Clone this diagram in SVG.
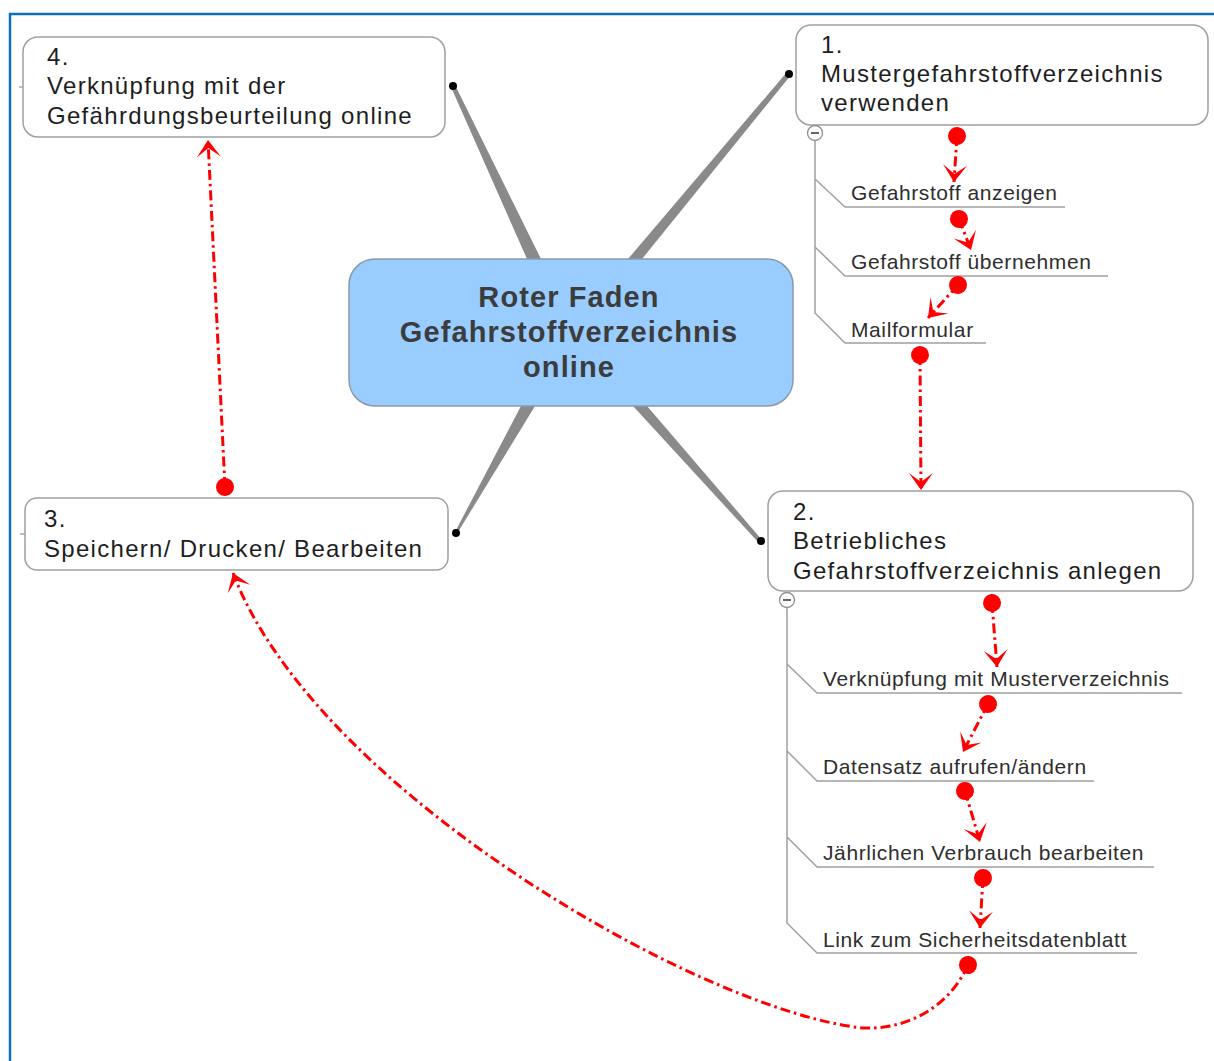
<svg xmlns="http://www.w3.org/2000/svg" width="1214" height="1061" viewBox="0 0 1214 1061">
<defs>
<style>
.box{fill:#fff;stroke:#a0a0a0;stroke-width:1.5}
.t{font-family:"Liberation Sans",Arial,sans-serif;font-size:24px;letter-spacing:1.3px;fill:#1e1e1e}
.s{font-family:"Liberation Sans",Arial,sans-serif;font-size:21px;letter-spacing:0.6px;fill:#2e2e2e}
.c{font-family:"Liberation Sans",Arial,sans-serif;font-size:29px;font-weight:bold;letter-spacing:1.1px;fill:#3c3c3c;text-anchor:middle}
.br{fill:none;stroke:#a0a0a0;stroke-width:1.5}
.arm{fill:#8a8a8a}
.dot{fill:#000}
.rel{fill:none;stroke:#ff0000;stroke-width:3;stroke-dasharray:10 4 2.5 4;marker-start:url(#ms);marker-end:url(#me)}
.col{fill:#fff;stroke:#909090;stroke-width:1.3}
</style>
<marker id="ms" markerUnits="userSpaceOnUse" markerWidth="20" markerHeight="20" refX="0" refY="0" overflow="visible" orient="auto">
<circle cx="0" cy="0" r="9" fill="#ff0000"/>
</marker>
<marker id="me" markerUnits="userSpaceOnUse" markerWidth="20" markerHeight="20" refX="0" refY="0" overflow="visible" orient="auto">
<path d="M0,0 L-17,-12 L-8,0 L-17,12 Z" fill="#ff0000"/>
</marker>
</defs>
<rect width="1214" height="1061" fill="#fff"/>
<g id="frame">
<path d="M10,1061 V14 H1214" fill="none" stroke="#0a70c4" stroke-width="2.5"/>
</g>
<g id="branches">
<polygon class="arm" points="451,87 455,85 541,259 527,259"/>
<polygon class="arm" points="787,72 791,75 642,259 628,259"/>
<polygon class="arm" points="454,534 458,532 535,406 521,406"/>
<polygon class="arm" points="758,542 762,540 647,406 633,406"/>
<circle class="dot" cx="453" cy="86" r="4"/>
<circle class="dot" cx="789" cy="74" r="4"/>
<circle class="dot" cx="456" cy="533" r="4"/>
<circle class="dot" cx="761" cy="541" r="4"/>
<line x1="19" y1="87" x2="24" y2="87" stroke="#808080" stroke-width="1"/>
<line x1="20" y1="534" x2="26" y2="534" stroke="#808080" stroke-width="1"/>
<path class="br" d="M815,140 V313 L845,343 H986 M815,179 L845,207 H1065 M815,247 L845,276 H1108"/>
<path class="br" d="M787,608 V923 L817,953 H1137 M787,664 L817,693 H1182 M787,751 L817,781 H1094 M787,837 L817,867 H1154"/>
</g>
<g id="center">
<rect x="349" y="259" width="444" height="147" rx="26" fill="#99ccff" stroke="#8a9aab" stroke-width="1.5"/>
<text class="c" x="569" y="307">Roter Faden</text>
<text class="c" x="569" y="342">Gefahrstoffverzeichnis</text>
<text class="c" x="569" y="377">online</text>
</g>
<g id="node1">
<rect class="box" x="796" y="25" width="412" height="100" rx="15"/>
<text class="t" x="821" y="53">1.</text>
<text class="t" x="821" y="82">Mustergefahrstoffverzeichnis</text>
<text class="t" x="821" y="111">verwenden</text>
<circle class="col" cx="815" cy="133" r="7.5"/>
<line x1="811" y1="133" x2="819" y2="133" stroke="#333" stroke-width="1.5"/>
</g>
<g id="node1-subs">
<text class="s" x="851" y="200">Gefahrstoff anzeigen</text>
<text class="s" x="851" y="269">Gefahrstoff übernehmen</text>
<text class="s" x="851" y="337">Mailformular</text>
</g>
<g id="node2">
<rect class="box" x="768" y="491" width="425" height="100" rx="15"/>
<text class="t" x="793" y="520">2.</text>
<text class="t" x="793" y="549">Betriebliches</text>
<text class="t" x="793" y="579">Gefahrstoffverzeichnis anlegen</text>
<circle class="col" cx="787" cy="600" r="7.5"/>
<line x1="783" y1="600" x2="791" y2="600" stroke="#333" stroke-width="1.5"/>
</g>
<g id="node2-subs">
<text class="s" x="823" y="686">Verknüpfung mit Musterverzeichnis</text>
<text class="s" x="823" y="774">Datensatz aufrufen/ändern</text>
<text class="s" x="823" y="860">Jährlichen Verbrauch bearbeiten</text>
<text class="s" x="823" y="947">Link zum Sicherheitsdatenblatt</text>
</g>
<g id="node3">
<rect class="box" x="25" y="498" width="423" height="72" rx="12"/>
<text class="t" x="44" y="527">3.</text>
<text class="t" x="44" y="557">Speichern/ Drucken/ Bearbeiten</text>
</g>
<g id="node4">
<rect class="box" x="23" y="37" width="422" height="100" rx="15"/>
<text class="t" x="47" y="65">4.</text>
<text class="t" x="47" y="94">Verknüpfung mit der</text>
<text class="t" x="47" y="124">Gefährdungsbeurteilung online</text>
</g>
<g id="connectors">
<path class="rel" d="M957,136 L954,182"/>
<path class="rel" d="M959,219 L971,250"/>
<path class="rel" d="M958,285 L928,318"/>
<path class="rel" d="M920,355 L921,490"/>
<path class="rel" d="M992,603 L997,667"/>
<path class="rel" d="M988,704 L963,752"/>
<path class="rel" d="M965,791 L980,842"/>
<path class="rel" d="M983,878 L980,928"/>
<path class="rel" d="M968,965 C950,1005 910,1030 862,1028 C700,1010 315,790 233,573"/>
<path class="rel" d="M225,487 L208,140"/>
</g>
</svg>
